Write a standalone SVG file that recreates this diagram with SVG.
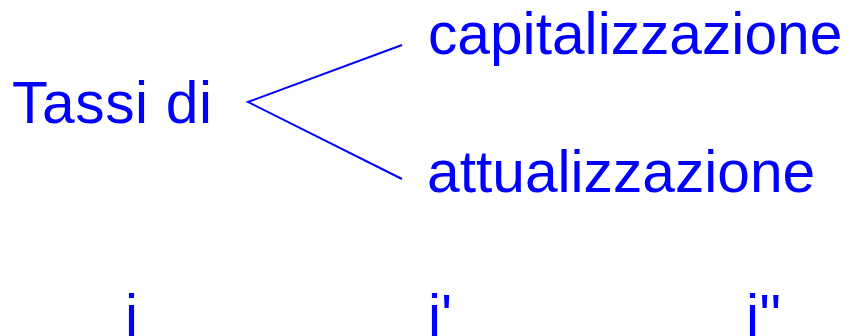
<svg xmlns="http://www.w3.org/2000/svg" width="847" height="336" viewBox="0 0 847 336">
<style>
.t{font-family:"Liberation Sans",Arial,sans-serif;font-size:58.7px;fill:#0000FF}
.c{stroke:#0000FF;stroke-width:2;fill:none}
</style>
<rect width="847" height="336" fill="#FFFFFF"/>
<g id="tassi"><text class="t" x="12" y="123" textLength="200" lengthAdjust="spacing">Tassi di</text></g>
<g id="capitalizzazione"><text class="t" x="428" y="54">capitalizzazione</text></g>
<g id="attualizzazione"><text class="t" x="427" y="192">attualizzazione</text></g>
<g id="i0"><text class="t" x="125" y="336">i</text></g>
<g id="i1"><text class="t" x="428" y="336">i'</text></g>
<g id="i2"><text class="t" x="746" y="336">i''</text></g>
<g id="connectors">
<polyline class="c" points="402,45 248,102 402,179"/>
</g>
</svg>
